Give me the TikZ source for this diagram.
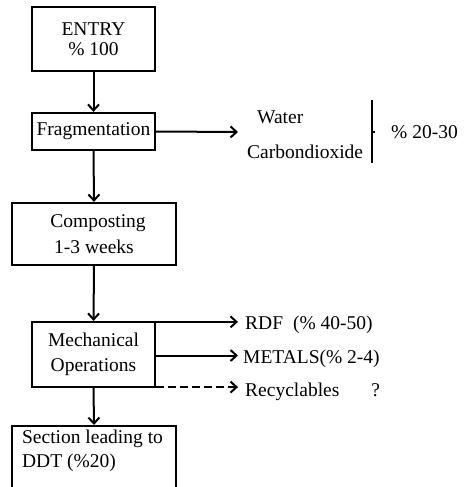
\documentclass[tikz,border=0pt]{standalone}
\usepackage{fontspec}
\setmainfont{Liberation Serif}
\usetikzlibrary{arrows.meta,calc}
\begin{document}
\begin{tikzpicture}[x=1pt,y=-1pt,
  every node/.style={font=\fontsize{19.5}{21}\selectfont, inner sep=0pt},
  box/.style={draw, line width=2.2pt, align=center},
  lbl/.style={anchor=west},
  arr/.style={line width=2pt, -{Straight Barb[length=6pt,width=11pt,line width=2pt]}},
  darr/.style={arr, dash pattern=on 8pt off 4pt}]
\useasboundingbox (0,0) rectangle (464,487);
\clip (0,0) rectangle (464,487);
% boxes
\node[box, minimum width=123, minimum height=64] (entry) at (93.5,39) {ENTRY\\[-1pt]\% 100};
\node[box, minimum width=123, minimum height=37] (frag) at (93.5,131.5) {Fragmentation};
\node[box, minimum width=164, minimum height=62, font=\fontsize{19.5}{26}\selectfont] (comp) at (94,234) {\hspace*{8pt}Composting\\1-3 weeks};
\node[box, minimum width=123, minimum height=65, font=\fontsize{19.5}{25}\selectfont] (mech) at (93.5,354.5) {Mechanical\\Operations};
\node[box, minimum width=164, minimum height=90, anchor=north] (sect) at (94,425) {};
\node[anchor=north west, align=left, font=\fontsize{19.5}{24}\selectfont] (secttxt) at ($(sect.north west)+(11,5)$) {Section leading to\\DDT (\%20)};
% right labels
\node[lbl] (water) at (257,117) {Water};
\node[lbl] (co2) at (247,152) {Carbondioxide};
\node[lbl] (pct) at (391,132) {\% 20-30};
\node[lbl] (rdf) at (245,325) {RDF\hspace{10pt}(\% 40-50)};
\node[lbl] (met) at (243,359) {METALS(\% 2-4)};
\node[lbl] (rec) at (245,392) {Recyclables\hspace{32pt}?};
\coordinate (fragend) at (238,132);
\coordinate (tipx) at (238,0);
% vertical arrows
\draw[arr] (entry.south) -- (frag.north);
\draw[arr] (frag.south) -- (comp.north);
\draw[arr] (comp.south) -- (mech.north);
\draw[arr] (mech.south) -- (sect.north);
% horizontal arrows
\draw[arr] (frag.east) -- (fragend);
\draw[arr] ([yshift=-1pt]mech.north east) -- ([yshift=-1pt]mech.north east -| tipx);
\draw[arr] ($(mech.east)+(0,1)$) -- ($(mech.east -| tipx)+(0,1)$);
\draw[darr] ([yshift=1pt]mech.south east) -- ([yshift=1pt]mech.south east -| tipx);
% bracket
\coordinate (bt) at (372,100);
\coordinate (bb) at (372,163);
\coordinate (bm) at (372,132);
\draw[line width=1.8pt] (bt) -- (bb);
\draw[line width=1.5pt] (bm) -- ++(3,0);
\end{tikzpicture}
\end{document}
